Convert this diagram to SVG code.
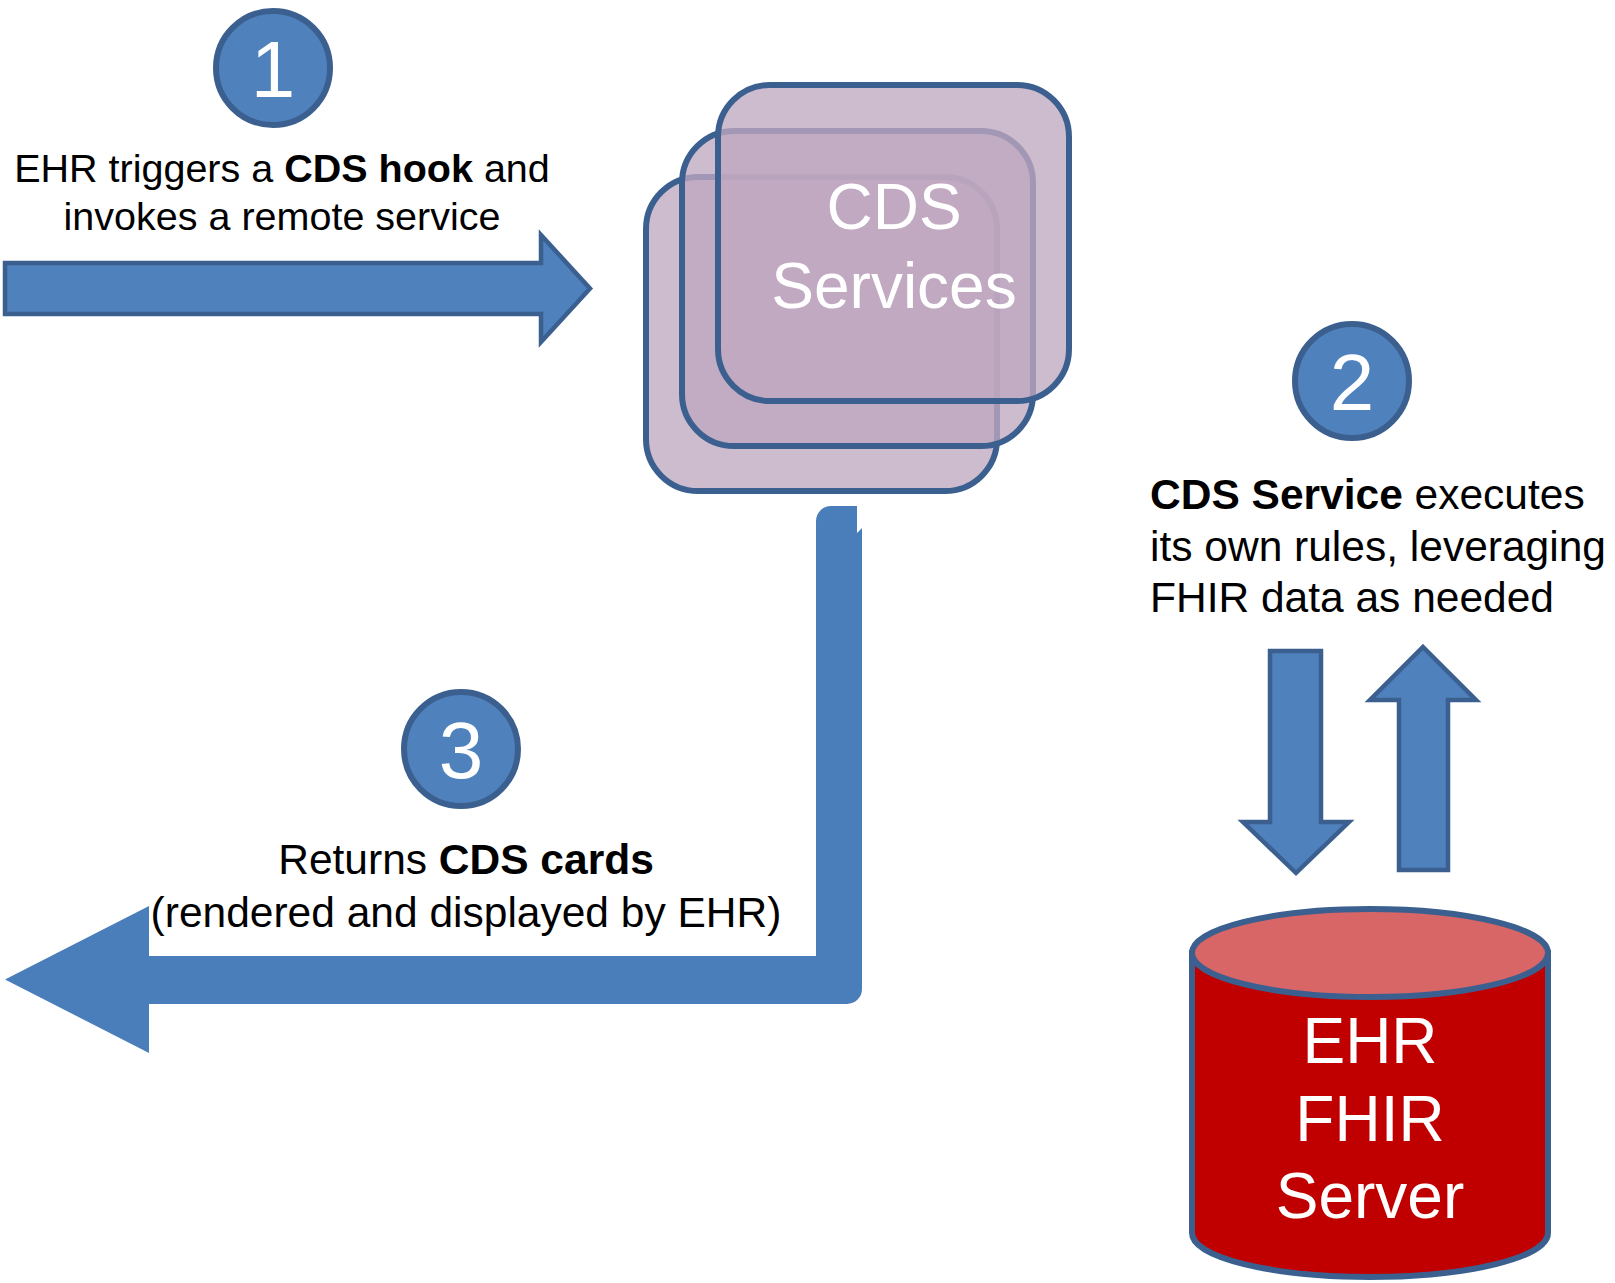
<svg xmlns="http://www.w3.org/2000/svg" width="1615" height="1283" viewBox="0 0 1615 1283">
<style>
.badge{fill:#4F81BD;stroke:#3B6090;stroke-width:6}
.num{font-family:"Liberation Sans",Arial,sans-serif;font-size:80px;fill:#fff;text-anchor:middle}
.lbl{font-family:"Liberation Sans",Arial,sans-serif;fill:#000}
.card{fill:rgb(191,168,192);fill-opacity:0.78;stroke:#3B6090;stroke-width:6}
.big{font-family:"Liberation Sans",Arial,sans-serif;font-size:64px;fill:#fff;text-anchor:middle}
.arr{fill:#4F81BD;stroke:#3B6090;stroke-width:4.5;stroke-linejoin:miter}
</style>
<rect width="1615" height="1283" fill="#fff"/>
<g id="connectors">
  <polygon id="arrow-invoke" class="arr" points="5,263 541,263 541,235 590,288.5 541,342 541,314 5,314"/>
  <path id="arrow-return" fill="#4A7EBB" d="M816,521 A15,15 0 0 1 831,506 L857,506 L857,533 L862,528 L862,989 A15,15 0 0 1 847,1004 L149,1004 L149,1053 L5,979.5 L149,906 L149,956 L816,956 Z"/>
  <polygon id="arrow-down" class="arr" points="1270,651 1321,651 1321,822 1349,822 1296,873 1243,822 1270,822"/>
  <polygon id="arrow-up" class="arr" points="1423,647 1476,700 1448,700 1448,870 1399,870 1399,700 1370,700"/>
</g>
<g id="step1">
  <circle class="badge" cx="273" cy="68" r="57"/>
  <text class="num" x="273" y="97">1</text>
  <text class="lbl" font-size="39.5" text-anchor="middle" x="282" y="182">EHR triggers a <tspan font-weight="bold">CDS hook</tspan> and</text>
  <text class="lbl" font-size="39.5" text-anchor="middle" x="282" y="230">invokes a remote service</text>
</g>
<g id="cds-services">
  <rect class="card" x="646" y="177" width="351" height="314" rx="52"/>
  <rect class="card" x="682" y="131" width="351" height="315" rx="52"/>
  <rect class="card" x="718" y="85" width="351" height="316" rx="52"/>
  <text class="big" x="894" y="229">CDS</text>
  <text class="big" x="894" y="308">Services</text>
</g>
<g id="step2">
  <circle class="badge" cx="1352" cy="381" r="57"/>
  <text class="num" x="1352" y="410">2</text>
  <text class="lbl" font-size="42.5" x="1150" y="509"><tspan font-weight="bold">CDS Service</tspan> executes</text>
  <text class="lbl" font-size="42.5" x="1150" y="561">its own rules, leveraging</text>
  <text class="lbl" font-size="42.5" x="1150" y="612">FHIR data as needed</text>
</g>
<g id="step3">
  <circle class="badge" cx="461" cy="749" r="57"/>
  <text class="num" x="461" y="778">3</text>
  <text class="lbl" font-size="42.5" text-anchor="middle" x="466" y="874">Returns <tspan font-weight="bold">CDS cards</tspan></text>
  <text class="lbl" font-size="42.5" text-anchor="middle" x="466" y="927">(rendered and displayed by EHR)</text>
</g>
<g id="ehr-fhir-server">
  <path d="M1192,953 L1192,1233 A178,44 0 0 0 1548,1233 L1548,953 Z" fill="#C00000" stroke="#3B6090" stroke-width="6"/>
  <ellipse cx="1370" cy="953" rx="178" ry="44" fill="#D96666" stroke="#3B6090" stroke-width="6"/>
  <text class="big" x="1370" y="1063">EHR</text>
  <text class="big" x="1370" y="1141">FHIR</text>
  <text class="big" x="1370" y="1218">Server</text>
</g>
</svg>
